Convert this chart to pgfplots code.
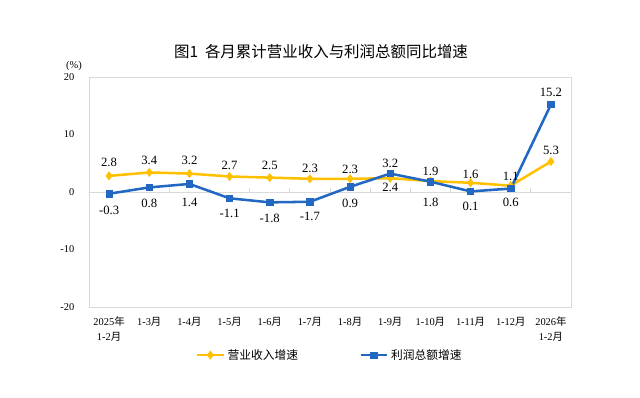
\documentclass[border=0pt]{standalone}
\usepackage{pgfplots}
\usepackage{pgfplotstable}
\pgfplotsset{compat=1.18}
\usepackage{fontspec}
\setmainfont{Liberation Serif}
\newfontfamily\cjk{Noto Sans CJK SC}
\definecolor{cy}{HTML}{FFC000}
\definecolor{cb}{HTML}{2268C2}
\definecolor{fr}{HTML}{D9D9D9}

\pgfplotstableread{
x y dy
0 2.8 14
1 3.4 12.5
2 3.2 13
3 2.7 11.5
4 2.5 12
5 2.3 10.5
6 2.3 9.5
7 2.4 -8.7
8 1.9 9.3
9 1.6 8.5
10 1.1 9
11 5.3 11
}\rev

\pgfplotstableread{
x y dy
0 -0.3 -17
1 0.8 -15.6
2 1.4 -18
3 -1.1 -14.7
4 -1.8 -15.6
5 -1.7 -15
6 0.9 -17
7 3.2 10
8 1.8 -21
9 0.1 -15
10 0.6 -14
11 15.2 12
}\prof

\begin{document}
\begin{tikzpicture}
\useasboundingbox (0,0) rectangle (480pt,297.75pt);
\node[font=\cjk\fontsize{11.6}{13}\selectfont] at (240.75pt,258.75pt) {图1\ \ 各月累计营业收入与利润总额同比增速};
\node[font=\fontsize{7.8}{9}\selectfont] at (55.5pt,248.25pt) {(\%)};
\begin{axis}[
  at={(66.75pt,67.5pt)}, anchor=south west,
  scale only axis, width=361.5pt, height=172.5pt,
  xmin=-0.5, xmax=11.5, ymin=-20, ymax=20,
  ytick={-20,-10,0,10,20},
  xtick={0,...,11},
  xticklabels={{2025{\cjk 年}\\1-2{\cjk 月}},1-3{\cjk 月},1-4{\cjk 月},1-5{\cjk 月},1-6{\cjk 月},1-7{\cjk 月},1-8{\cjk 月},1-9{\cjk 月},1-10{\cjk 月},1-11{\cjk 月},1-12{\cjk 月},{2026{\cjk 年}\\1-2{\cjk 月}}},
  xticklabel style={font=\fontsize{7.8}{11}\selectfont, align=center, anchor=north, yshift=-4pt},
  yticklabel style={font=\fontsize{7.8}{9}\selectfont, xshift=-7.5pt},
  major tick length=0pt,
  axis line style={draw=fr},
  /pgf/number format/assume math mode=true,
  /pgf/number format/.cd, fixed, fixed zerofill, precision=1, /pgfplots/.cd,
  yticklabel={\pgfmathprintnumber[fixed,precision=0]{\tick}},
  legend style={at={(0.5,-0.209)}, anchor=center, draw=none, fill=none,
    legend columns=2, font=\cjk\fontsize{8.8}{10}\selectfont,
    /tikz/every even column/.append style={column sep=44pt}},
  legend image code/.code={\draw[mark repeat=2,mark phase=2] plot coordinates {(0pt,0pt) (10pt,0pt) (20pt,0pt)};},
  clip=false,
]
\draw[fr, line width=0.6pt] (axis cs:-0.5,0) -- (axis cs:11.5,0);
\pgfplotsinvokeforeach{0.5,1.5,2.5,3.5,4.5,5.5,6.5,7.5,8.5,9.5,10.5}{
  \draw[fr, line width=0.6pt] (axis cs:#1,0) -- ([yshift=3pt]axis cs:#1,0);
}
\addplot[cy, line width=1.9pt, mark=diamond*, mark size=3pt, mark options={solid, line width=0.5pt},
  visualization depends on={0.75*\thisrow{dy} \as \dy},
  nodes near coords,
  every node near coord/.append style={font=\fontsize{9.5}{10}\selectfont, text=black, anchor=center, inner sep=0pt, yshift=\dy pt}
] table[x=x,y=y] {\rev};
\addlegendentry{营业收入增速}
\addplot[cb, line width=1.9pt, mark=square*, mark size=2.4pt, mark options={solid, line width=0.5pt},
  visualization depends on={0.75*\thisrow{dy} \as \dy},
  nodes near coords,
  every node near coord/.append style={font=\fontsize{9.5}{10}\selectfont, text=black, anchor=center, inner sep=0pt, yshift=\dy pt}
] table[x=x,y=y] {\prof};
\addlegendentry{利润总额增速}
\end{axis}
\end{tikzpicture}
\end{document}
